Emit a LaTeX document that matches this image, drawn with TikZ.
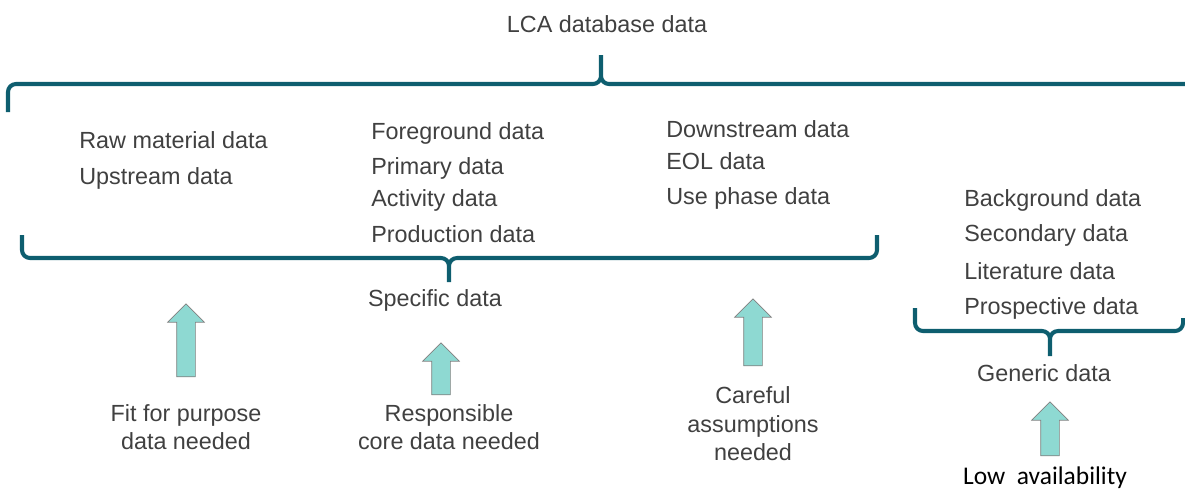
\documentclass[tikz,border=0pt]{standalone}
\usepackage{fontspec}
\setmainfont{Liberation Sans}
\newfontfamily\lowfont{Carlito}
\usetikzlibrary{shapes.arrows,positioning}
\definecolor{bracecol}{HTML}{0E5E6F}
\definecolor{arrowfill}{HTML}{8ED9D2}
\definecolor{txtgray}{HTML}{404040}

\begin{document}
\begin{tikzpicture}[x=0.02cm,y=-0.02cm]
\tikzstyle{datatext}=[anchor=base west, inner sep=0pt, text=txtgray, font=\fontsize{13.3}{16}\selectfont]
\tikzstyle{headtext}=[anchor=base, inner sep=0pt, text=txtgray, font=\fontsize{13.3}{16}\selectfont]
\tikzstyle{notetext}=[align=center, inner sep=0pt, text=txtgray, font=\fontsize{13.3}{16.2}\selectfont]
\tikzstyle{bracketline}=[draw=bracecol, line width=2.3pt, rounded corners=0.16cm]
\tikzstyle{uparrow}=[single arrow, rotate=90, draw=gray, fill=arrowfill, thin, inner sep=0.18cm, single arrow head extend=0.18cm, single arrow tip angle=90]

\useasboundingbox (0,0) rectangle (1185,491);

% headings
\node[headtext] (lca)      at (607,32)  {LCA database data};
\node[headtext] (specific) at (435,306) {Specific data};
\node[headtext] (generic)  at (1044,381) {Generic data};

% upstream column
\node[datatext] (raw)  at (79,148) {Raw material data};
\node[datatext] (upst) at (79,184) {Upstream data};

% core column
\node[datatext] (fore) at (371,139) {Foreground data};
\node[datatext] (prim) at (371,174) {Primary data};
\node[datatext] (acti) at (371,206) {Activity data};
\node[datatext] (prod) at (371,242) {Production data};

% downstream column
\node[datatext] (down) at (666,137) {Downstream data};
\node[datatext] (eol)  at (666,169) {EOL data};
\node[datatext] (use)  at (666,204) {Use phase data};

% generic column
\node[datatext] (back) at (964,206) {Background data};
\node[datatext] (seco) at (964,241) {Secondary data};
\node[datatext] (lite) at (964,279) {Literature data};
\node[datatext] (pros) at (964,314) {Prospective data};

% brace tips
\coordinate (lcatip)  at (601,55);
\coordinate (spectip) at (449,282);
\coordinate (gentip)  at (1050,356);

\draw[bracketline] (8,112) -- (8,84) -- (lcatip |- 0,84) -- (lcatip)
                   (lcatip) -- (lcatip |- 0,84) -- (1190,84);
\draw[bracketline] (22,235) -- (22,258) -- (spectip |- 0,258) -- (spectip)
                   (spectip) -- (spectip |- 0,258) -- (877,258) -- (877,235);
\draw[bracketline] (915,308) -- (915,331) -- (gentip |- 0,331) -- (gentip)
                   (gentip) -- (gentip |- 0,331) -- (1183,331) -- (1183,318);

% arrows and notes
\node[uparrow, minimum height=1.46cm] (fitarrow)  at (186,345) {};
\node[uparrow, minimum height=1.04cm] (corearrow) at (441,373.5) {};
\node[uparrow, minimum height=1.34cm] (carearrow) at (753,337) {};
\node[uparrow, minimum height=1.08cm] (lowarrow)  at (1050,433.5) {};

\node[notetext] (fitnote)  at (186,427) {Fit for purpose\\data needed};
\node[notetext] (corenote) at (449,427) {Responsible\\core data needed};
\node[notetext] (carenote) at (753,424) {Careful\\assumptions\\needed};
\node[anchor=base, inner sep=0pt, font=\lowfont\fontsize{14.5}{16}\selectfont] (lownote) at (1045,484) {Low\ \ availability};

\end{tikzpicture}
\end{document}
